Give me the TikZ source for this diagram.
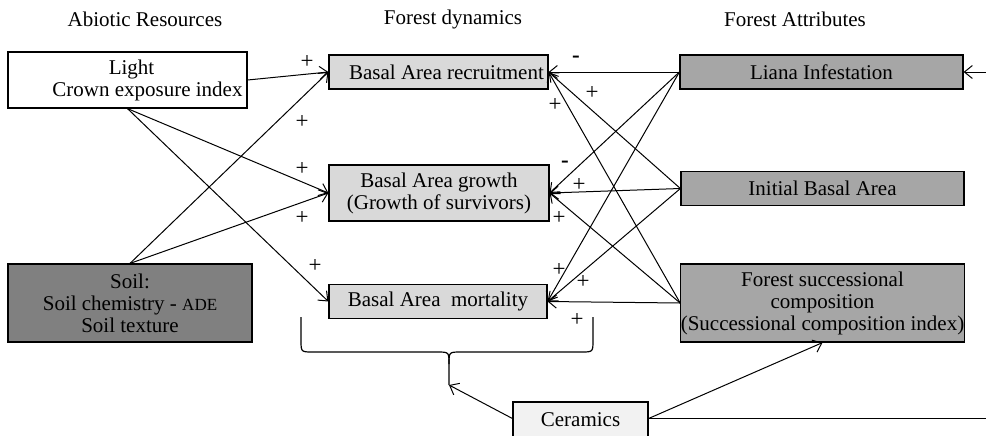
\documentclass[tikz,border=0pt]{standalone}
\usepackage{fontspec}
\setmainfont{Liberation Serif}
\usetikzlibrary{arrows.meta}
\begin{document}
\begin{tikzpicture}[x=0.5pt, y=-0.5pt,
    font=\fontsize{10.5}{11}\selectfont,
    every node/.style={inner sep=0pt, align=center},
    box/.style={draw, line width=0.6pt, minimum height=17pt},
    resbox/.style={box, fill=white},
    soilbox/.style={box, fill=black!50},
    dynbox/.style={box, fill=black!15},
    attrbox/.style={box, fill=black!35},
    cerbox/.style={box, fill=black!5},
    link/.style={-{Straight Barb[length=4pt,width=6.5pt]}, line width=0.5pt},
    sign/.style={font=\fontsize{11.5}{11.5}\selectfont}]
    \clip (0,0) rectangle (986,435);

    % Titles
    \node (tabio) at (145,19) {Abiotic Resources};
    \node (tdyn) at (453,19) {Forest dynamics};
    \node (tattr) at (795,19) {Forest Attributes};

    % Nodes (Abiotic resources)
    \node[resbox, minimum width=119.5pt, minimum height=28pt] (light) at (127.5,80) {\hspace*{4pt}Light\\\hspace*{20pt}Crown exposure index};
    \node[soilbox, minimum width=122pt, minimum height=39pt] (soil) at (130,303) {Soil:\\Soil chemistry - {\fontsize{8.5}{11}\selectfont ADE}\\Soil texture};

    % Nodes (Forest dynamics)
    \node[dynbox, minimum width=109.5pt] (rec) at (438.5,72) {\hspace*{8pt}Basal Area recruitment};
    \node[dynbox, minimum width=110pt, minimum height=28pt] (grow) at (439,193) {Basal Area growth\\(Growth of survivors)};
    \node[dynbox, minimum width=109pt] (mort) at (438,301.5) {Basal Area\ \ mortality};

    % Nodes (Forest attributes)
    \node[attrbox, minimum width=141.5pt] (liana) at (821.5,72) {Liana Infestation};
    \node[attrbox, minimum width=141.5pt] (init) at (822.5,188.5) {Initial Basal Area};
    \node[attrbox, minimum width=141.5pt, minimum height=39pt] (succ) at (822.5,303) {Forest successional\\composition\\(Successional composition index)};
    \node[cerbox, minimum width=67.5pt, minimum height=18pt] (cer) at (580.5,420) {Ceramics};

    % Free ends at the border
    \coordinate (edgeA) at (986,72);
    \coordinate (edgeB) at (986,418.5);
    \coordinate (btip) at (449,385);

    % Edges (Abiotic resources -> dynamics)
    \draw[link] (light.east) -- (rec.west);
    \draw[link] (light.south) -- (grow.west);
    \draw[link] (light.south) -- (mort.west);
    \draw[link] (soil.north) -- (rec.west);
    \draw[link] (soil.north) -- (grow.west);

    % Edges (Attributes -> dynamics)
    \foreach \src in {liana, init, succ}
      \foreach \dst in {rec, grow, mort}
        \draw[link] (\src.west) -- (\dst.east);

    % Edges (Ceramics)
    \draw[line width=0.6pt] (301,317) -- (301,340) .. controls (301,352) .. (313,352) -- (437,352)
      .. controls (449,352) .. (449,364) -- (btip);
    \draw[line width=0.6pt] (593,317) -- (593,340) .. controls (593,352) .. (581,352) -- (461,352)
      .. controls (449,352) .. (449,364);
    \draw[link] (cer.west |- edgeB) -- (btip);
    \draw[link] (cer.east |- edgeB) -- (succ.south);
    \draw[line width=0.5pt] (cer.east |- edgeB) -- (edgeB);
    \draw[link] (edgeA) -- (liana.east);

    % Signs
    \node[sign] (s1) at (307,62) {+};
    \node[sign] (s2) at (302,122) {+};
    \node[sign] (s3) at (302,169) {+};
    \node[sign] (s4) at (302,218) {+};
    \node[sign] (s5) at (315,266) {+};
    \node[sign] (s6) at (576,59) {\textbf{-}};
    \node[sign] (s7) at (592,93) {+};
    \node[sign] (s8) at (555,105) {+};
    \node[sign] (s9) at (565,164) {\textbf{-}};
    \node[sign] (s10) at (579,185) {+};
    \node[sign] (s11) at (559,218) {+};
    \node[sign] (s12) at (559,270) {+};
    \node[sign] (s13) at (583,282) {+};
    \node[sign] (s14) at (577,320) {+};
\end{tikzpicture}
\end{document}
